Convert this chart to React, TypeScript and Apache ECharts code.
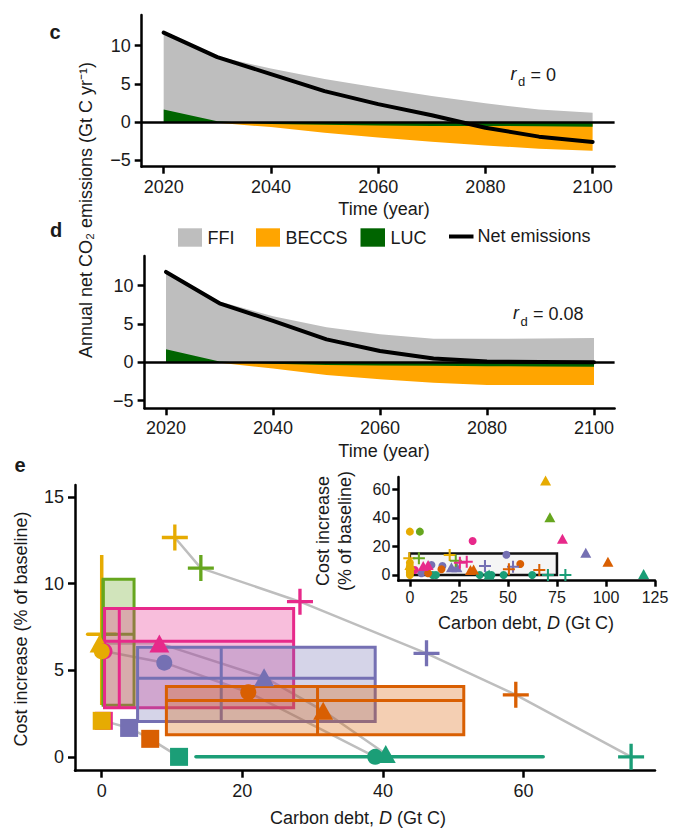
import React, { useEffect, useRef } from 'react';
import * as echarts from 'echarts';

const FONT = '"Liberation Sans", Arial, Helvetica, sans-serif';
const INK = '#1a1a1a';

// ---------- Panels c & d : emissions pathways ----------
const YEARS = [2020, 2030, 2040, 2050, 2060, 2070, 2080, 2090, 2100];
const C_FFI = [10.05, 8.5, 7.0, 5.65, 4.5, 3.4, 2.45, 1.65, 1.22];
const C_LUC = [1.65, 0.1, -0.25, -0.35, -0.45, -0.5, -0.5, -0.55, -0.6];
const C_BECCS = [0, -0.1, -0.4, -1.05, -1.55, -2.07, -2.55, -2.93, -3.14];
const C_NET = [11.7, 8.5, 6.27, 4.05, 2.35, 0.9, -0.74, -1.9, -2.6];

const D_FFI = [10.1, 7.85, 6.0, 4.57, 3.65, 3.08, 3.08, 3.1, 3.17];
const D_LUC = [1.7, 0.1, -0.2, -0.35, -0.4, -0.45, -0.5, -0.55, -0.57];
const D_BECCS = [0, -0.05, -0.6, -1.31, -1.8, -2.21, -2.46, -2.41, -2.39];
const D_NET = [11.8, 7.7, 5.4, 3.0, 1.47, 0.5, 0.1, 0.05, 0.0];

const YEAR_TICKS = [2020, 2040, 2060, 2080, 2100];
const EMIS_TICKS = [-5, 0, 5, 10];

const COL_FFI = '#BEBEBE';
const COL_BECCS = '#FFA500';
const COL_LUC = '#006400';

// ---------- Panel e : cost vs carbon debt ----------
const MODEL_COLORS = ['#E6AB02', '#66A61E', '#E7298A', '#7570B3', '#D95F02', '#1B9E77'];

const BOX_X_MIN = [0, 0.2, 0.4, 5.1, 9.2, 13.4];
const BOX_X_MAX = [0, 4.6, 27.3, 38.9, 51.5, 62.8];
const BOX_Y_MIN = [3.0, 2.98, 2.83, 2.04, 1.27, 0];
const BOX_Y_MAX = [11.66, 10.25, 8.57, 6.33, 4.06, 0];
const MID_Y = [7.08, 7.08, 6.67, 4.54, 3.25, 0];
const MID_Y_FROM = [-2.0, 0.2, 0.4, 5.1, 9.2, 13.4];
const MID_Y_TO = [2.0, 4.6, 27.3, 38.9, 51.5, 62.8];
const MID_X = [0, 0.2, 2.5, 17.0, 30.7, 13.4];

const SQ_MODEL = [2, 0, 3, 4, 5];
const SQ_D = [0.3, 0, 3.9, 6.9, 11.0];
const SQ_COST = [2.08, 2.08, 1.67, 1.04, 0];

const TRI_MODEL = [0, 2, 3, 4, 5];
const TRI_D = [-0.3, 8.2, 23.1, 31.5, 40.4];
const TRI_COST = [6.55, 6.55, 4.6, 2.66, 0.17];

const CIR_MODEL = [2, 0, 3, 4, 5];
const CIR_D = [0.4, 0, 8.9, 20.85, 38.9];
const CIR_COST = [6.1, 6.1, 5.44, 3.73, 0];

const CRS_MODEL = [0, 1, 2, 3, 4, 5];
const CRS_D = [10.4, 14.1, 28.2, 46.2, 58.9, 75.3];
const CRS_COST = [12.67, 10.9, 8.96, 5.98, 3.58, 0];

const E_X_TICKS = [0, 20, 40, 60];
const E_Y_TICKS = [0, 5, 10, 15];

// inset (all points)
const IN_TRI_MODEL = [0, 1, 2, 3, 4, 5, 2, 2, 3, 3, 4, 4, 5, 0];
const IN_TRI_D = [69.2, 71.4, 77.8, 89.7, 101, 119.2, 6.8, 9.3, 21.2, 24, 30.9, 32.5, 40.4, 0];
const IN_TRI_COST = [66, 40.3, 25.4, 15.6, 9.3, 0.7, 6.3, 7, 5.4, 5.4, 3.5, 3.8, 0.3, 7];

const IN_CIR_MODEL = [0, 1, 2, 3, 4, 5, 5, 5, 5, 5, 5, 5, 3, 3, 3, 4, 4, 2, 0, 0, 0, 0, 0, 0];
const IN_CIR_D = [0, 5.1, 32, 49.2, 56.3, 35.6, 39.8, 41.6, 47.8, 62.4, 11.6, 13.3, 11, 16.6, 5.9, 16.1, 9.3, 2.5, 0, 0, 0, 0, 0, 0];
const IN_CIR_COST = [30.3, 30.3, 23.8, 14.2, 7.7, 0, 0, 0, 0, 0, 0, 0, 7, 6.3, 1.2, 4, 1.2, 3.5, 0, 1.5, 3, 4.5, 6, 8.5];

const IN_CRS_MODEL = [0, 0, 1, 1, 2, 2, 3, 3, 4, 4, 5, 5];
const IN_CRS_D = [-0.3, 20.3, 4.6, 23.4, 25.5, 29, 38.3, 52.6, 50.5, 66, 70.4, 79.3];
const IN_CRS_COST = [11.7, 14, 11.7, 10, 8.5, 9.3, 6.3, 5.8, 4, 3.5, 0, 0];

const IN_X_TICKS = [0, 25, 50, 75, 100, 125];
const IN_Y_TICKS = [0, 20, 40, 60];
const ZOOM_BOX = [0, 75, 0, 15];

const PLUS_BIG = 'path://M43.6,0H56.4V43.6H100V56.4H56.4V100H43.6V56.4H0V43.6H43.6Z';
const PLUS_SMALL = 'path://M41.5,0H58.5V41.5H100V58.5H58.5V100H41.5V58.5H0V41.5H41.5Z';

const fmt = (v: number) => (v < 0 ? '\u2212' + Math.abs(v) : String(v));

function hexA(hex: string, a: number) {
  const n = parseInt(hex.slice(1), 16);
  return `rgba(${(n >> 16) & 255},${(n >> 8) & 255},${n & 255},${a})`;
}

function axis(gridIndex: number, min: number, max: number, ticks: number[], fontSize: number, margin: number, tickLen: number) {
  return {
    type: 'value',
    gridIndex,
    min,
    max,
    axisLine: { show: true, onZero: false, lineStyle: { color: '#000', width: 2.5 } },
    axisTick: { show: true, length: tickLen, customValues: ticks, lineStyle: { color: '#000', width: 2.5 } },
    axisLabel: { show: true, customValues: ticks, formatter: fmt, fontSize, fontFamily: FONT, color: INK, margin },
    splitLine: { show: false },
  };
}

function pts(models: number[], xs: number[], ys: number[]) {
  return xs.map((x, i) => ({ value: [x, ys[i]], itemStyle: { color: MODEL_COLORS[models[i]], opacity: 1 } }));
}

function chain(xs: number[], ys: number[]) {
  return xs.map((x, i) => [x, ys[i]]).sort((a, b) => a[0] - b[0]);
}

// Areas filled to zero, layered: FFI (stacked on positive LUC), BECCS (stacked on negative LUC), LUC on top
function areaSeries(name: string, idx: number, data: number[], color: string, z: number) {
  return {
    name,
    type: 'line',
    xAxisIndex: idx,
    yAxisIndex: idx,
    symbol: 'none',
    lineStyle: { width: 0, opacity: 0 },
    areaStyle: { color, opacity: 1, origin: 0 },
    data: YEARS.map((y, i) => [y, data[i]]),
    z,
    silent: true,
  };
}

function panelAreas(idx: number, ffi: number[], luc: number[], beccs: number[]) {
  const top = ffi.map((v, i) => v + Math.max(luc[i], 0));
  const bottom = beccs.map((v, i) => v + Math.min(luc[i], 0));
  return [
    areaSeries('FFI', idx, top, COL_FFI, 2),
    areaSeries('BECCS', idx, bottom, COL_BECCS, 2),
    areaSeries('LUC', idx, luc, COL_LUC, 3),
  ];
}

function netSeries(idx: number, data: number[]) {
  return {
    name: 'Net emissions',
    type: 'line',
    xAxisIndex: idx,
    yAxisIndex: idx,
    symbol: 'none',
    lineStyle: { color: '#000', width: 4, join: 'round', cap: 'round' },
    data: YEARS.map((y, i) => [y, data[i]]),
    z: 5,
    silent: true,
    markLine: {
      silent: true,
      symbol: ['none', 'none'],
      label: { show: false },
      lineStyle: { color: '#000', width: 2.5, type: 'solid' },
      data: [{ yAxis: 0 }],
      z: 4,
    },
  };
}

function txt(x: number, y: number, text: string, extra: any = {}, rot = 0) {
  return {
    type: 'text',
    x,
    y,
    rotation: rot,
    z: 100,
    style: {
      text,
      fontSize: 18,
      fontFamily: FONT,
      fill: INK,
      align: 'center',
      verticalAlign: 'middle',
      ...extra,
    },
  };
}

function richDebt(x: number, y: number) {
  return {
    type: 'text', x, y, z: 100,
    style: {
      text: '{n|Carbon debt, }{i|D}{n| (Gt C)}',
      align: 'center', verticalAlign: 'middle', fontSize: 18, fontFamily: FONT, fill: INK,
      rich: {
        n: { fontSize: 18, fontFamily: FONT, fill: INK, color: INK },
        i: { fontSize: 18, fontFamily: FONT, fontStyle: 'italic', fill: INK, color: INK },
      },
    },
  };
}

function buildOption() {
  const boxData = MODEL_COLORS.map((_, i) => [
    BOX_X_MIN[i], BOX_X_MAX[i], BOX_Y_MIN[i], BOX_Y_MAX[i], MID_Y[i], MID_Y_FROM[i], MID_Y_TO[i], MID_X[i], i,
  ]);

  const boxSeries = {
    name: 'Ranges',
    type: 'custom',
    coordinateSystem: 'cartesian2d',
    xAxisIndex: 2,
    yAxisIndex: 2,
    data: boxData,
    z: 3,
    silent: true,
    renderItem: (_p: any, api: any) => {
      const v = (k: number) => api.value(k);
      const x0 = v(0), x1 = v(1), y0 = v(2), y1 = v(3);
      const hy = v(4), hf = v(5), ht = v(6), vx = v(7);
      const color = MODEL_COLORS[v(8)];
      const degenerate = !(x1 > x0 && y1 > y0);
      const children: any[] = [];
      if (!degenerate) {
        const a = api.coord([x0, y0]);
        const b = api.coord([x1, y1]);
        children.push({
          type: 'rect',
          shape: { x: a[0], y: b[1], width: b[0] - a[0], height: a[1] - b[1] },
          style: { fill: hexA(color, 0.3), stroke: color, lineWidth: 3 },
        });
      }
      if (ht > hf) {
        const a = api.coord([hf, hy]);
        const b = api.coord([ht, hy]);
        children.push({
          type: 'line',
          shape: { x1: a[0], y1: a[1], x2: b[0], y2: b[1] },
          style: { stroke: color, lineWidth: degenerate ? 3.5 : 3, lineCap: degenerate ? 'round' : 'butt' },
        });
      }
      if (y1 > y0) {
        const a = api.coord([vx, y0]);
        const b = api.coord([vx, y1]);
        children.push({
          type: 'line',
          shape: { x1: a[0], y1: a[1], x2: b[0], y2: b[1] },
          style: { stroke: color, lineWidth: degenerate ? 3.5 : 3 },
        });
      }
      return { type: 'group', children };
    },
  };

  const chainSeries = [
    chain(SQ_D, SQ_COST),
    chain(CIR_D, CIR_COST),
    chain(TRI_D, TRI_COST),
    chain(CRS_D, CRS_COST),
  ].map((d, i) => ({
    name: 'link' + i,
    type: 'line',
    xAxisIndex: 2,
    yAxisIndex: 2,
    symbol: 'none',
    lineStyle: { color: '#BEBEBE', width: 2.5 },
    data: d,
    z: 1,
    silent: true,
  }));

  const insetBox = {
    name: 'Zoom window',
    type: 'custom',
    coordinateSystem: 'cartesian2d',
    xAxisIndex: 3,
    yAxisIndex: 3,
    data: [ZOOM_BOX],
    z: 1,
    silent: true,
    renderItem: (_p: any, api: any) => {
      const a = api.coord([api.value(0), api.value(2)]);
      const b = api.coord([api.value(1), api.value(3)]);
      return {
        type: 'rect',
        shape: { x: a[0], y: b[1], width: b[0] - a[0], height: a[1] - b[1] },
        style: { fill: '#F5F5F5', stroke: '#111', lineWidth: 2.5 },
      };
    },
  };

  const scat = (name: string, xi: number, data: any[], symbol: string, size: any, z: number) => ({
    name,
    type: 'scatter',
    xAxisIndex: xi,
    yAxisIndex: xi,
    symbol,
    symbolSize: size,
    itemStyle: { opacity: 1 },
    data,
    z,
    silent: true,
  });

  const graphic: any[] = [
    txt(55, 32, 'c', { fontWeight: 'bold', fontSize: 20 }),
    txt(56, 230, 'd', { fontWeight: 'bold', fontSize: 20 }),
    txt(20, 465, 'e', { fontWeight: 'bold', fontSize: 20 }),
    txt(86, 210, 'Annual net CO\u2082 emissions (Gt C yr\u207B\u00B9)', {}, Math.PI / 2),
    txt(384, 209, 'Time (year)'),
    txt(384, 451, 'Time (year)'),
    // r_d labels
    txt(510.5, 74, 'r', { fontStyle: 'italic', align: 'left' }),
    txt(518, 81, 'd', { fontSize: 13, align: 'left' }),
    txt(525.5, 75, ' = 0', { align: 'left' }),
    txt(513, 312.5, 'r', { fontStyle: 'italic', align: 'left' }),
    txt(520.5, 321, 'd', { fontSize: 13, align: 'left' }),
    txt(528, 313.5, ' = 0.08', { align: 'left' }),
    // legend
    { type: 'rect', z: 100, shape: { x: 178, y: 228.3, width: 24, height: 18.4 }, style: { fill: COL_FFI } },
    txt(207.5, 238, 'FFI', { align: 'left' }),
    { type: 'rect', z: 100, shape: { x: 256, y: 228.3, width: 24, height: 18.4 }, style: { fill: COL_BECCS } },
    txt(285.5, 238, 'BECCS', { align: 'left' }),
    { type: 'rect', z: 100, shape: { x: 360.5, y: 228.3, width: 24.5, height: 18.4 }, style: { fill: COL_LUC } },
    txt(390.5, 238, 'LUC', { align: 'left' }),
    { type: 'line', z: 100, shape: { x1: 449, y1: 236.5, x2: 473.5, y2: 236.5 }, style: { stroke: '#000', lineWidth: 4 } },
    txt(477.5, 236, 'Net emissions', { align: 'left' }),
    // panel e titles
    txt(21, 629, 'Cost increase (% of baseline)', {}, Math.PI / 2),
    richDebt(358, 818),
    txt(334, 531, 'Cost increase\n(% of baseline)', { lineHeight: 22 }, Math.PI / 2),
    richDebt(526, 623),
  ];

  return {
    animation: false,
    backgroundColor: '#fff',
    textStyle: { fontFamily: FONT },
    grid: [
      { left: 141.7, top: 15, width: 472.9, height: 151.7 },
      { left: 144.6, top: 256, width: 470, height: 152.3 },
      { left: 75, top: 485, width: 580, height: 285.7 },
      { left: 398.3, top: 477, width: 256.7, height: 103.7 },
    ],
    xAxis: [
      axis(0, 2015.9, 2104.1, YEAR_TICKS, 18, 11, 7),
      axis(1, 2016.0, 2103.85, YEAR_TICKS, 18, 11, 7),
      axis(2, -3.8, 78.7, E_X_TICKS, 18, 11.5, 7),
      axis(3, -5.9, 125, IN_X_TICKS, 16, 9, 6),
    ],
    yAxis: [
      axis(0, -5.83, 14.0, EMIS_TICKS, 18, 11, 7),
      axis(1, -6.0, 13.88, EMIS_TICKS, 18, 11, 7),
      axis(2, -0.8, 15.7, E_Y_TICKS, 18, 11, 7),
      axis(3, -4, 68.5, IN_Y_TICKS, 16, 8, 6),
    ],
    series: [
      ...panelAreas(0, C_FFI, C_LUC, C_BECCS),
      netSeries(0, C_NET),
      ...panelAreas(1, D_FFI, D_LUC, D_BECCS),
      netSeries(1, D_NET),
      ...chainSeries,
      boxSeries,
      scat('Square', 2, pts(SQ_MODEL, SQ_D, SQ_COST), 'rect', 18, 4),
      scat('Triangle', 2, pts(TRI_MODEL, TRI_D, TRI_COST), 'triangle', [20, 18], 4),
      scat('Circle', 2, pts(CIR_MODEL, CIR_D, CIR_COST), 'circle', 16, 4),
      scat('Cross', 2, pts(CRS_MODEL, CRS_D, CRS_COST), PLUS_BIG, 26, 4),
      insetBox,
      scat('Inset circle', 3, pts(IN_CIR_MODEL, IN_CIR_D, IN_CIR_COST), 'circle', 8, 2),
      scat('Inset triangle', 3, pts(IN_TRI_MODEL, IN_TRI_D, IN_TRI_COST), 'triangle', [11, 10], 2),
      scat('Inset cross', 3, pts(IN_CRS_MODEL, IN_CRS_D, IN_CRS_COST), PLUS_SMALL, 12, 2),
    ],
    graphic,
  };
}

export default function App() {
  const ref = useRef<HTMLDivElement>(null);
  useEffect(() => {
    document.body.style.margin = '0';
    const chart = echarts.init(ref.current!, null, { renderer: 'svg' });
    chart.setOption(buildOption() as any);
    return () => chart.dispose();
  }, []);
  return <div ref={ref} style={{ width: 673, height: 831 }} />;
}
